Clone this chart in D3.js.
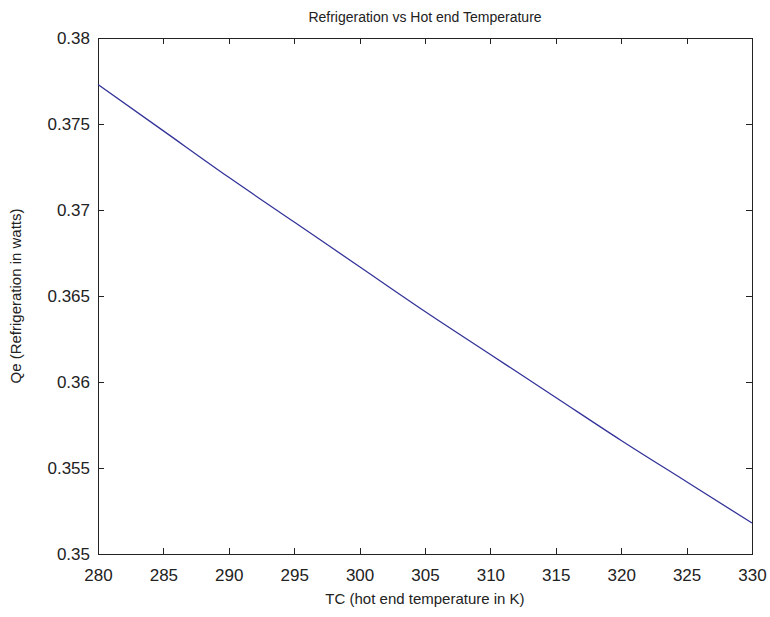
<!DOCTYPE html>
<meta charset="utf-8">
<head>
    <title>Refrigeration vs Hot end Temperature</title>
</head>
<style>
  body { margin: 0; background: #fff; }
  text { font-family: "Liberation Sans", Arial, sans-serif; fill: #222; }
  .axis path, .axis line { fill: none; stroke: #222; shape-rendering: crispEdges; }
  .axis text { font-size: 17px; }
</style>
<body>
<script src="https://d3js.org/d3.v7.min.js"></script>
<script>
// data
var tempK = [280, 285, 290, 295, 300, 305, 310, 315, 320, 325, 330];
var qeWatts = [0.3773, 0.3746, 0.3719, 0.3693, 0.3667, 0.3641, 0.3616, 0.3591, 0.3566, 0.3542, 0.3518];
var xTicks = [280, 285, 290, 295, 300, 305, 310, 315, 320, 325, 330];
var yTicks = [0.35, 0.355, 0.36, 0.365, 0.37, 0.375, 0.38];

var margin = {top: 38, right: 18, bottom: 63, left: 98},
    width = 770 - margin.left - margin.right,
    height = 617 - margin.top - margin.bottom;

var svg = d3.select("body").append("svg")
    .attr("width", 770)
    .attr("height", 617);

var g = svg.append("g")
    .attr("transform", "translate(" + margin.left + "," + margin.top + ")");

var x = d3.scaleLinear().domain([280, 330]).range([0, width]);
var y = d3.scaleLinear().domain([0.35, 0.38]).range([height, 0]);

var fmtY = function(d) { return String(+d.toFixed(3)); };

// bottom axis with labels, ticks inward
g.append("g")
    .attr("class", "axis")
    .attr("transform", "translate(0," + height + ")")
    .call(d3.axisBottom(x).tickValues(xTicks).tickSizeInner(-6).tickSizeOuter(0))
  .selectAll("text").attr("dy", "0.71em").attr("y", 15);

g.append("g")
    .attr("class", "axis")
    .call(d3.axisLeft(y).tickValues(yTicks).tickFormat(fmtY).tickSizeInner(-6).tickSizeOuter(0))
  .selectAll("text").attr("x", -8);

// top and right axes (ticks only)
g.append("g")
    .attr("class", "axis")
    .call(d3.axisTop(x).tickValues(xTicks).tickSizeInner(-6).tickSizeOuter(0).tickFormat(""));

g.append("g")
    .attr("class", "axis")
    .attr("transform", "translate(" + width + ",0)")
    .call(d3.axisRight(y).tickValues(yTicks).tickSizeInner(-6).tickSizeOuter(0).tickFormat(""));

// line
var line = d3.line()
    .x(function(d, i) { return x(tempK[i]); })
    .y(function(d) { return y(d); })
    .curve(d3.curveMonotoneX);

g.append("path")
    .datum(qeWatts)
    .attr("fill", "none")
    .attr("stroke", "#33339a")
    .attr("stroke-width", 1.3)
    .attr("d", line);

// titles
svg.append("text")
    .attr("x", margin.left + width / 2)
    .attr("y", 22)
    .style("text-anchor", "middle")
    .style("font-size", "14px")
    .text("Refrigeration vs Hot end Temperature");

svg.append("text")
    .attr("x", margin.left + width / 2)
    .attr("y", 604)
    .style("text-anchor", "middle")
    .style("font-size", "15px")
    .text("TC (hot end temperature in K)");

svg.append("text")
    .attr("transform", "translate(21," + (margin.top + height / 2) + ") rotate(-90)")
    .style("text-anchor", "middle")
    .style("font-size", "15px")
    .text("Qe (Refrigeration in watts)");
</script>
</body>
